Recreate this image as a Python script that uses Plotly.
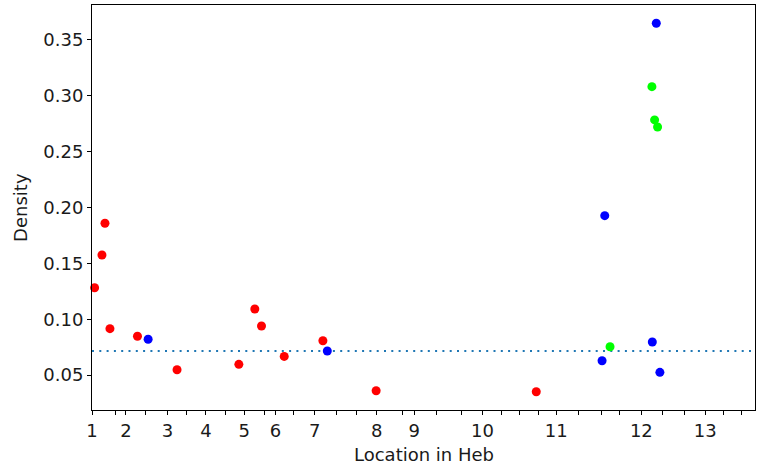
import plotly.graph_objects as go

# Positions along the gene (arbitrary position units) and densities
red_pos = [0.13, 0.50, 0.65, 0.90, 2.28, 4.265, 7.365, 8.165, 8.50, 9.64, 11.58, 14.25, 22.28]
red_density = [0.1282, 0.1575, 0.1859, 0.0915, 0.0847, 0.0547, 0.0596, 0.1091, 0.0939, 0.0667, 0.0807, 0.0359, 0.0350]

blue_pos = [2.815, 11.80, 25.715, 25.58, 28.10, 28.48, 28.30]
blue_density = [0.0820, 0.0715, 0.1927, 0.0628, 0.0796, 0.0524, 0.3650]

green_pos = [25.98, 28.08, 28.215, 28.365]
green_density = [0.0753, 0.3082, 0.2784, 0.2721]

mean_density = 0.0715

# Axis ticks (position units) and exon labels
tick_pos = [0, 1.2, 1.7, 2.7, 3.78, 4.75, 5.715, 6.715, 7.63, 8.665, 9.2, 10.13, 11.165,
            12.25, 13.25, 14.28, 15.55, 16.165, 17.28, 18.55, 19.58, 20.53, 21.45, 22.415,
            23.28, 24.415, 25.53, 26.45, 27.55, 28.615, 29.715, 30.75, 31.665, 32.58]
label_pos = [0, 1.7, 3.78, 5.715, 7.63, 9.2, 11.165, 14.28, 16.165, 19.58, 23.28, 27.55, 30.75]
label_text = ["1", "2", "3", "4", "5", "6", "7", "8", "9", "10", "11", "12", "13"]
x_max = 33.25

y_ticks = [0.05, 0.10, 0.15, 0.20, 0.25, 0.30, 0.35]
y_range = [0.0187, 0.3813]

tick_text = []
for p in tick_pos:
    if p in label_pos:
        tick_text.append(label_text[label_pos.index(p)])
    else:
        tick_text.append("")

FONT = "DejaVu Sans"
FS = 18
TXT = "#1a1a1a"

fig = go.Figure()
for xs, ys, col in [(red_pos, red_density, "#ff0000"),
                    (blue_pos, blue_density, "#0000ff"),
                    (green_pos, green_density, "#00ff00")]:
    fig.add_trace(go.Scatter(x=xs, y=ys, mode="markers",
                             marker=dict(color=col, size=9, line=dict(width=0)),
                             showlegend=False, cliponaxis=False))

fig.add_shape(type="line", xref="paper", x0=0, x1=1, yref="y", y0=mean_density, y1=mean_density,
              line=dict(color="#1f77b4", width=2, dash="2px,5.3px"), layer="below")

fig.update_layout(
    width=757, height=467,
    margin=dict(l=92, r=1, t=5, b=57),
    plot_bgcolor="white", paper_bgcolor="white",
    font=dict(family=FONT, size=FS, color=TXT),
    xaxis=dict(range=[0, x_max], tickmode="array", tickvals=tick_pos, ticktext=tick_text,
               ticks="outside", ticklen=4, tickwidth=1, tickcolor="black",
               showline=True, linecolor="black", linewidth=1, mirror=True,
               showgrid=False, zeroline=False, tickfont=dict(family=FONT, size=FS, color=TXT)),
    yaxis=dict(range=y_range, tickmode="array", tickvals=y_ticks,
               ticktext=[f"{v:.2f}" for v in y_ticks],
               ticks="outside", ticklen=4, tickwidth=1, tickcolor="black",
               showline=True, linecolor="black", linewidth=1, mirror=True,
               showgrid=False, zeroline=False, tickfont=dict(family=FONT, size=FS, color=TXT)),
    annotations=[
        dict(text="Location in Heb", xref="paper", yref="paper", x=0.5, y=-0.111,
             xanchor="center", yanchor="middle", showarrow=False,
             font=dict(family=FONT, size=FS, color=TXT)),
        dict(text="Density", xref="paper", yref="paper", x=-0.108, y=0.5, textangle=-90,
             xanchor="center", yanchor="middle", showarrow=False,
             font=dict(family=FONT, size=FS, color=TXT)),
    ],
)

post = ("document.body.style.margin='0';document.body.style.padding='0';"
        "document.body.style.overflow='hidden';"
        "var gd=document.getElementById('{plot_id}');"
        "Plotly.relayout(gd,{width:757,height:467});")

fig.write_html("out.html", config={"responsive": False, "displayModeBar": False}, post_script=post)
